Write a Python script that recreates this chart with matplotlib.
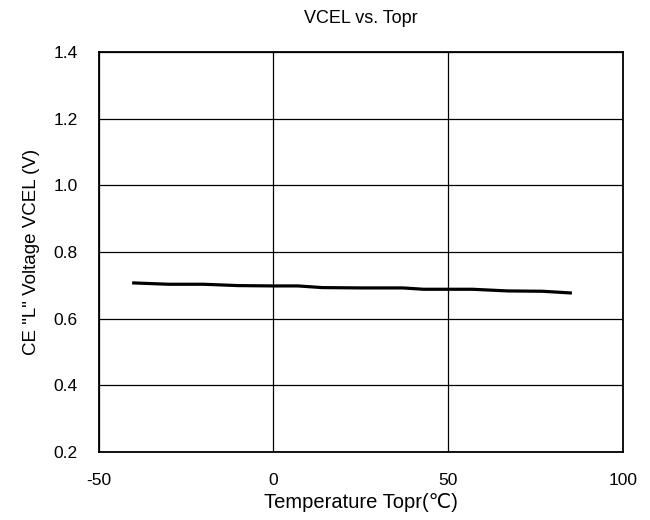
import matplotlib.pyplot as plt
import numpy as np

plt.rcParams['font.family'] = ['Liberation Sans', 'DejaVu Sans']
plt.rcParams['axes.unicode_minus'] = False

# data
temp = [-40, -30, -20, -10, 0, 7, 14, 25, 37, 43, 57, 67, 77, 85]
vcel = [0.707, 0.703, 0.703, 0.699, 0.698, 0.698, 0.693, 0.692, 0.692,
        0.688, 0.688, 0.683, 0.682, 0.677]

xticks = [-50, 0, 50, 100]
yticks = [0.2, 0.4, 0.6, 0.8, 1.0, 1.2, 1.4]

fig = plt.figure(figsize=(6.5, 5.2), dpi=100)
ax = fig.add_axes([0.152, 0.131, 0.806, 0.769])

ax.plot(temp, vcel, color='black', linewidth=2.3)

ax.set_xlim(-50, 100)
ax.set_ylim(0.2, 1.4)
ax.set_xticks(xticks)
ax.set_yticks(yticks)
ax.set_yticklabels([f'{v:.1f}' for v in yticks])
ax.tick_params(length=0, labelsize=12.5, pad=15)
ax.grid(True, color='black', linewidth=0.9)
for s in ax.spines.values():
    s.set_linewidth(1.3)

ax.set_title('VCEL vs. Topr', fontsize=13, pad=21)
ax.set_xlabel('Temperature Topr(\u2103)', fontsize=14.5, labelpad=4)
ax.set_ylabel('CE "L" Voltage VCEL (V)', fontsize=13.5, labelpad=10)

fig.savefig('out.png', dpi=100)
